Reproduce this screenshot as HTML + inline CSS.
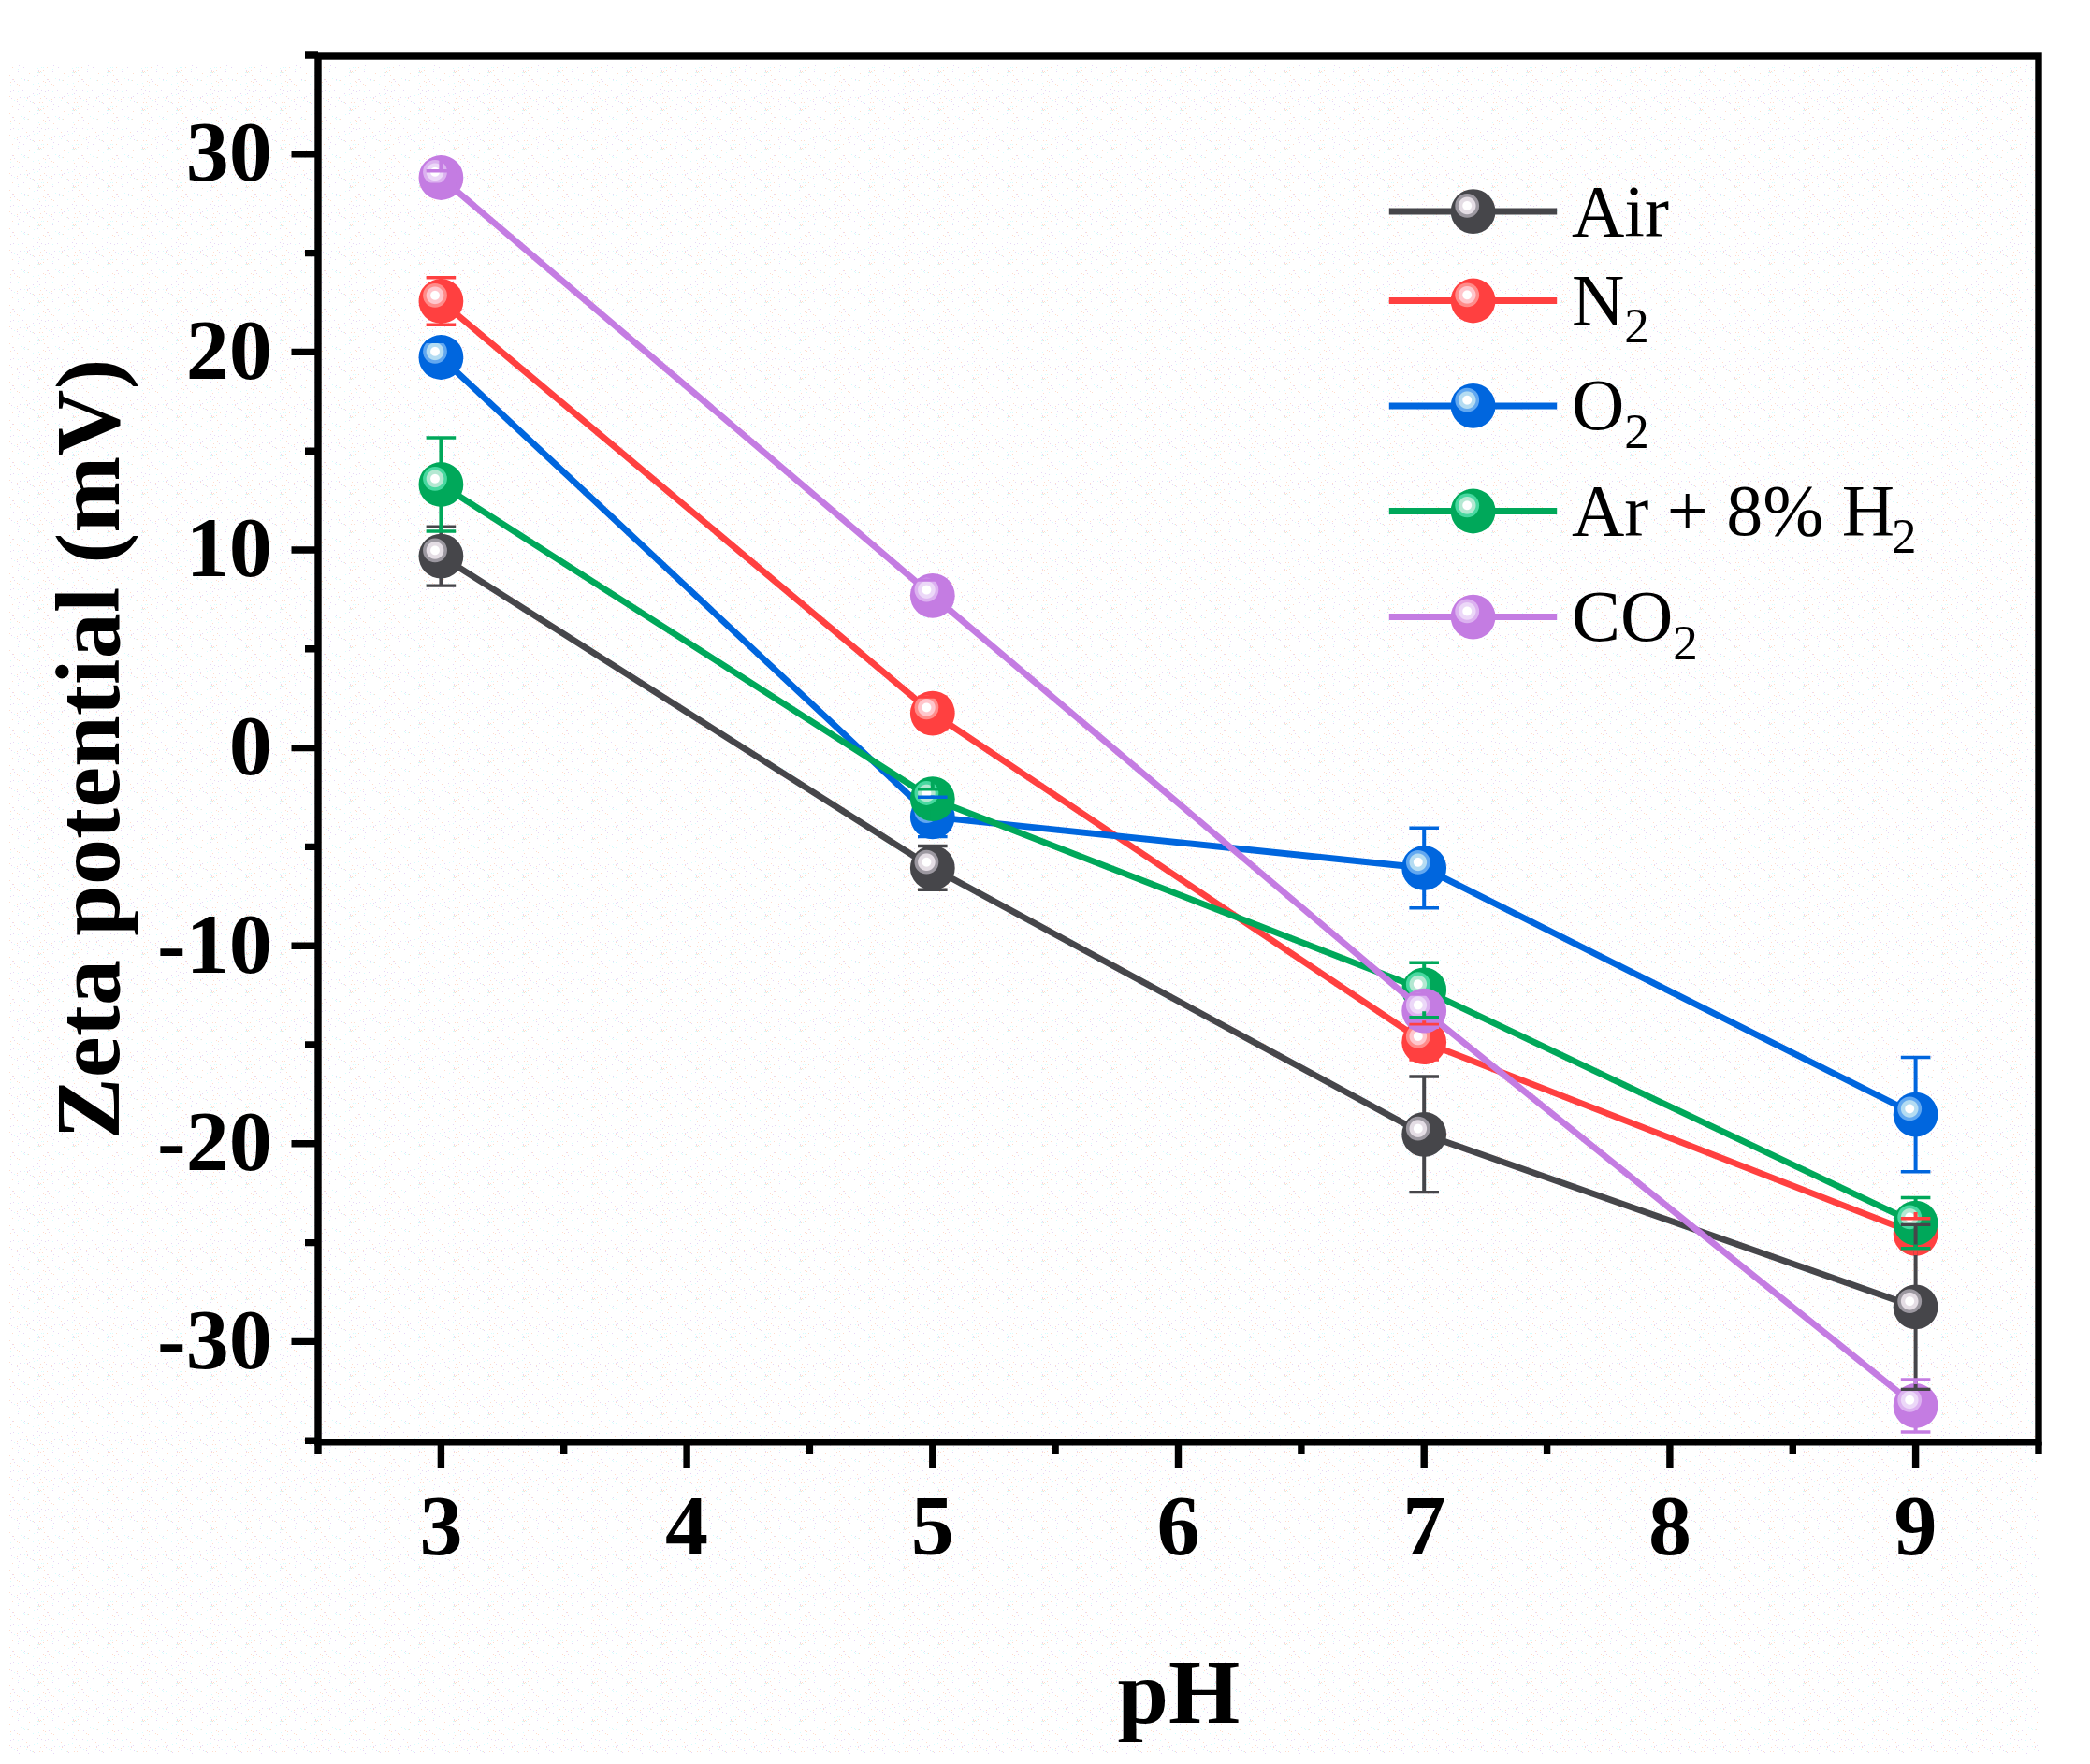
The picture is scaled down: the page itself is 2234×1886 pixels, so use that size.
<!DOCTYPE html>
<html lang="en"><head><meta charset="utf-8"><title>Zeta potential vs pH</title>
<style>html,body{margin:0;padding:0;background:#fff}body{width:2234px;height:1886px;overflow:hidden}svg{display:block}
text{font-family:"Liberation Serif","Times New Roman",serif;fill:#000}.b{font-weight:700}</style></head><body>
<svg width="2234" height="1886" viewBox="0 0 2234 1886">
<defs>
<radialGradient id="g-air" cx="50%" cy="50%" r="50%"><stop offset="0" stop-color="#fff"/><stop offset="0.34" stop-color="#fff"/><stop offset="0.42" stop-color="#e4dde4"/><stop offset="0.68" stop-color="#e4dde4"/><stop offset="0.76" stop-color="#9c98a0"/><stop offset="1" stop-color="#9c98a0"/></radialGradient>
<g id="m-air"><circle r="23.9" fill="#46464a"/><circle cx="-6.4" cy="-6.2" r="12.9" fill="url(#g-air)"/></g>
<radialGradient id="g-n2" cx="50%" cy="50%" r="50%"><stop offset="0" stop-color="#fff"/><stop offset="0.34" stop-color="#fff"/><stop offset="0.42" stop-color="#ffc6cc"/><stop offset="0.68" stop-color="#ffc6cc"/><stop offset="0.76" stop-color="#ff8c8a"/><stop offset="1" stop-color="#ff8c8a"/></radialGradient>
<g id="m-n2"><circle r="23.9" fill="#ff4040"/><circle cx="-6.4" cy="-6.2" r="12.9" fill="url(#g-n2)"/></g>
<radialGradient id="g-o2" cx="50%" cy="50%" r="50%"><stop offset="0" stop-color="#fff"/><stop offset="0.34" stop-color="#fff"/><stop offset="0.42" stop-color="#b4dcf2"/><stop offset="0.68" stop-color="#b4dcf2"/><stop offset="0.76" stop-color="#62a8f0"/><stop offset="1" stop-color="#62a8f0"/></radialGradient>
<g id="m-o2"><circle r="23.9" fill="#0066de"/><circle cx="-6.4" cy="-6.2" r="12.9" fill="url(#g-o2)"/></g>
<radialGradient id="g-arh2" cx="50%" cy="50%" r="50%"><stop offset="0" stop-color="#fff"/><stop offset="0.34" stop-color="#fff"/><stop offset="0.42" stop-color="#b4e8d2"/><stop offset="0.68" stop-color="#b4e8d2"/><stop offset="0.76" stop-color="#48d8a0"/><stop offset="1" stop-color="#48d8a0"/></radialGradient>
<g id="m-arh2"><circle r="23.9" fill="#00a85a"/><circle cx="-6.4" cy="-6.2" r="12.9" fill="url(#g-arh2)"/></g>
<radialGradient id="g-co2" cx="50%" cy="50%" r="50%"><stop offset="0" stop-color="#fff"/><stop offset="0.34" stop-color="#fff"/><stop offset="0.42" stop-color="#ecd8f8"/><stop offset="0.68" stop-color="#ecd8f8"/><stop offset="0.76" stop-color="#dcb2f0"/><stop offset="1" stop-color="#dcb2f0"/></radialGradient>
<g id="m-co2"><circle r="23.9" fill="#c47ce2"/><circle cx="-6.4" cy="-6.2" r="12.9" fill="url(#g-co2)"/></g>
<pattern id="dz" width="37" height="41" patternUnits="userSpaceOnUse"><rect x="20" y="9" width="1" height="1" fill="#ffdccb"/><rect x="25" y="3" width="1" height="1" fill="#d6fdfd"/><rect x="4" y="34" width="1" height="1" fill="#e6d6f6"/><rect x="6" y="23" width="1" height="1" fill="#ffdccb"/><rect x="3" y="32" width="1" height="1" fill="#d6fdfd"/><rect x="13" y="2" width="1" height="1" fill="#e6d6f6"/><rect x="5" y="27" width="1" height="1" fill="#ffdccb"/><rect x="26" y="4" width="1" height="1" fill="#d6fdfd"/><rect x="15" y="5" width="1" height="1" fill="#e6d6f6"/><rect x="35" y="27" width="1" height="1" fill="#ffdccb"/><rect x="3" y="36" width="1" height="1" fill="#d6fdfd"/><rect x="7" y="14" width="1" height="1" fill="#e6d6f6"/><rect x="14" y="2" width="1" height="1" fill="#ffdccb"/><rect x="35" y="8" width="1" height="1" fill="#d6fdfd"/><rect x="18" y="26" width="1" height="1" fill="#e6d6f6"/><rect x="9" y="34" width="1" height="1" fill="#ffdccb"/><rect x="7" y="36" width="1" height="1" fill="#d6fdfd"/><rect x="19" y="35" width="1" height="1" fill="#e6d6f6"/><rect x="11" y="6" width="1" height="1" fill="#ffdccb"/><rect x="36" y="40" width="1" height="1" fill="#d6fdfd"/><rect x="12" y="23" width="1" height="1" fill="#e6d6f6"/><rect x="6" y="35" width="1" height="1" fill="#ffdccb"/><rect x="4" y="36" width="1" height="1" fill="#d6fdfd"/><rect x="3" y="39" width="1" height="1" fill="#e6d6f6"/><rect x="13" y="31" width="1" height="1" fill="#ffdccb"/><rect x="34" y="27" width="1" height="1" fill="#d6fdfd"/><rect x="20" y="29" width="1" height="1" fill="#e6d6f6"/><rect x="29" y="23" width="1" height="1" fill="#ffdccb"/><rect x="19" y="15" width="1" height="1" fill="#d6fdfd"/><rect x="11" y="15" width="1" height="1" fill="#e6d6f6"/><rect x="5" y="36" width="1" height="1" fill="#ffdccb"/><rect x="19" y="33" width="1" height="1" fill="#d6fdfd"/><rect x="31" y="21" width="1" height="1" fill="#e6d6f6"/><rect x="28" y="18" width="1" height="1" fill="#ffdccb"/><rect x="4" y="7" width="1" height="1" fill="#d6fdfd"/><rect x="32" y="26" width="1" height="1" fill="#e6d6f6"/><rect x="10" y="21" width="1" height="1" fill="#ffdccb"/><rect x="9" y="31" width="1" height="1" fill="#d6fdfd"/><rect x="26" y="2" width="1" height="1" fill="#e6d6f6"/><rect x="4" y="35" width="1" height="1" fill="#ffdccb"/><rect x="36" y="20" width="1" height="1" fill="#d6fdfd"/><rect x="21" y="22" width="1" height="1" fill="#e6d6f6"/><rect x="31" y="37" width="1" height="1" fill="#ffdccb"/><rect x="29" y="4" width="1" height="1" fill="#d6fdfd"/><rect x="5" y="17" width="1" height="1" fill="#e6d6f6"/><rect x="30" y="4" width="1" height="1" fill="#ffdccb"/><rect x="3" y="19" width="1" height="1" fill="#d6fdfd"/><rect x="36" y="28" width="1" height="1" fill="#e6d6f6"/><rect x="18" y="24" width="1" height="1" fill="#ffdccb"/><rect x="22" y="1" width="1" height="1" fill="#d6fdfd"/><rect x="29" y="22" width="1" height="1" fill="#e6d6f6"/><rect x="10" y="39" width="1" height="1" fill="#ffdccb"/><rect x="7" y="31" width="1" height="1" fill="#d6fdfd"/><rect x="3" y="13" width="1" height="1" fill="#e6d6f6"/><rect x="18" y="8" width="1" height="1" fill="#ffdccb"/><rect x="15" y="25" width="1" height="1" fill="#d6fdfd"/><rect x="25" y="31" width="1" height="1" fill="#e6d6f6"/><rect x="5" y="10" width="1" height="1" fill="#ffdccb"/><rect x="28" y="25" width="1" height="1" fill="#d6fdfd"/><rect x="35" y="17" width="1" height="1" fill="#e6d6f6"/><rect x="8" y="27" width="1" height="1" fill="#ffdccb"/><rect x="26" y="22" width="1" height="1" fill="#d6fdfd"/><rect x="24" y="14" width="1" height="1" fill="#e6d6f6"/><rect x="9" y="5" width="1" height="1" fill="#ffdccb"/><rect x="11" y="9" width="1" height="1" fill="#d6fdfd"/><rect x="14" y="14" width="1" height="1" fill="#e6d6f6"/></pattern>
</defs>
<rect width="2234" height="1886" fill="#fff"/>
<rect x="10" y="70" width="2169" height="1805" fill="url(#dz)"/>
<polyline points="471.4,594.6 996.8,927.9 1522.2,1212.8 2047.6,1397.4" fill="none" stroke="#46464a" stroke-width="6.8" stroke-linejoin="round"/>
<use href="#m-air" x="471.4" y="594.6"/>
<use href="#m-air" x="996.8" y="927.9"/>
<use href="#m-air" x="1522.2" y="1212.8"/>
<use href="#m-air" x="2047.6" y="1397.4"/>
<polyline points="471.4,322.0 996.8,762.6 1522.2,1114.2 2047.6,1319.0" fill="none" stroke="#ff4040" stroke-width="6.8" stroke-linejoin="round"/>
<use href="#m-n2" x="471.4" y="322.0"/>
<use href="#m-n2" x="996.8" y="762.6"/>
<use href="#m-n2" x="1522.2" y="1114.2"/>
<use href="#m-n2" x="2047.6" y="1319.0"/>
<polyline points="471.4,382.0 996.8,873.4 1522.2,928.0 2047.6,1191.6" fill="none" stroke="#0066de" stroke-width="6.8" stroke-linejoin="round"/>
<use href="#m-o2" x="471.4" y="382.0"/>
<use href="#m-o2" x="996.8" y="873.4"/>
<use href="#m-o2" x="1522.2" y="928.0"/>
<use href="#m-o2" x="2047.6" y="1191.6"/>
<polyline points="471.4,518.0 996.8,854.2 1522.2,1058.4 2047.6,1307.6" fill="none" stroke="#00a85a" stroke-width="6.8" stroke-linejoin="round"/>
<use href="#m-arh2" x="471.4" y="518.0"/>
<use href="#m-arh2" x="996.8" y="854.2"/>
<use href="#m-arh2" x="1522.2" y="1058.4"/>
<use href="#m-arh2" x="2047.6" y="1307.6"/>
<polyline points="471.4,190.0 996.8,636.8 1522.2,1080.7 2047.6,1503.0" fill="none" stroke="#c47ce2" stroke-width="6.8" stroke-linejoin="round"/>
<use href="#m-co2" x="471.4" y="190.0"/>
<use href="#m-co2" x="996.8" y="636.8"/>
<use href="#m-co2" x="1522.2" y="1080.7"/>
<use href="#m-co2" x="2047.6" y="1503.0"/>
<path d="M471.4 563.1V571.7M471.4 626.1V617.5M996.8 904.5V905.0M996.8 951.3V950.8M1522.2 1151.0V1189.9M1522.2 1274.6V1235.7M2047.6 1309.4V1374.5M2047.6 1485.4V1420.3" stroke="#46464a" stroke-width="4.0" fill="none"/>
<path d="M455.6 563.1h31.6M455.6 626.1h31.6M981.0 904.5h31.6M981.0 951.3h31.6M1506.4 1151.0h31.6M1506.4 1274.6h31.6M2031.8 1309.4h31.6M2031.8 1485.4h31.6" stroke="#46464a" stroke-width="3.4" fill="none"/>
<path d="M471.4 296.8V299.1M471.4 347.2V344.9M996.8 745.1V739.7M996.8 780.1V785.5M1522.2 1095.4V1091.3M1522.2 1133.0V1137.1M2047.6 1302.8V1296.1M2047.6 1335.2V1341.9" stroke="#ff4040" stroke-width="4.0" fill="none"/>
<path d="M455.6 296.8h31.6M455.6 347.2h31.6M981.0 745.1h31.6M981.0 780.1h31.6M1506.4 1095.4h31.6M1506.4 1133.0h31.6M2031.8 1302.8h31.6M2031.8 1335.2h31.6" stroke="#ff4040" stroke-width="3.4" fill="none"/>
<path d="M471.4 365.4V359.1M471.4 398.6V404.9M996.8 852.2V850.5M996.8 894.6V896.3M1522.2 885.2V905.1M1522.2 970.8V950.9M2047.6 1130.5V1168.7M2047.6 1252.7V1214.5" stroke="#0066de" stroke-width="4.0" fill="none"/>
<path d="M455.6 365.4h31.6M455.6 398.6h31.6M981.0 852.2h31.6M981.0 894.6h31.6M1506.4 885.2h31.6M1506.4 970.8h31.6M2031.8 1130.5h31.6M2031.8 1252.7h31.6" stroke="#0066de" stroke-width="3.4" fill="none"/>
<path d="M471.4 468.0V495.1M471.4 568.0V540.9M996.8 843.8V831.3M996.8 864.6V877.1M1522.2 1029.2V1035.5M1522.2 1087.6V1081.3M2047.6 1280.5V1284.7M2047.6 1334.7V1330.5" stroke="#00a85a" stroke-width="4.0" fill="none"/>
<path d="M455.6 468.0h31.6M455.6 568.0h31.6M981.0 843.8h31.6M981.0 864.6h31.6M1506.4 1029.2h31.6M1506.4 1087.6h31.6M2031.8 1280.5h31.6M2031.8 1334.7h31.6" stroke="#00a85a" stroke-width="3.4" fill="none"/>
<path d="M471.4 182.7V167.1M471.4 197.3V212.9M996.8 620.0V613.9M996.8 653.6V659.7M1522.2 1063.1V1057.8M1522.2 1098.3V1103.6M2047.6 1475.0V1480.1M2047.6 1531.0V1525.9" stroke="#c47ce2" stroke-width="4.0" fill="none"/>
<path d="M455.6 182.7h31.6M455.6 197.3h31.6M981.0 620.0h31.6M981.0 653.6h31.6M1506.4 1063.1h31.6M1506.4 1098.3h31.6M2031.8 1475.0h31.6M2031.8 1531.0h31.6" stroke="#c47ce2" stroke-width="3.4" fill="none"/>
<g stroke="#000" stroke-width="7.4" fill="none">
<rect x="340.0" y="60.0" width="1839.0" height="1481.8"/>
<path d="M340.0 1434.4H311.5M340.0 1222.8H311.5M340.0 1011.2H311.5M340.0 799.6H311.5M340.0 588.0H311.5M340.0 376.4H311.5M340.0 164.8H311.5M340.0 1540.2H326.0M340.0 1328.6H326.0M340.0 1117.0H326.0M340.0 905.4H326.0M340.0 693.8H326.0M340.0 482.2H326.0M340.0 270.6H326.0M340.0 59.0H326.0M471.4 1541.8V1570.0M734.1 1541.8V1570.0M996.8 1541.8V1570.0M1259.5 1541.8V1570.0M1522.2 1541.8V1570.0M1784.9 1541.8V1570.0M2047.6 1541.8V1570.0M340.0 1541.8V1555.0M602.7 1541.8V1555.0M865.4 1541.8V1555.0M1128.1 1541.8V1555.0M1390.9 1541.8V1555.0M1653.6 1541.8V1555.0M1916.3 1541.8V1555.0M2179.0 1541.8V1555.0"/>
</g>
<g class="b" font-size="92" text-anchor="end">
<text x="290.7" y="1462.7">-30</text>
<text x="290.7" y="1251.1">-20</text>
<text x="290.7" y="1039.5">-10</text>
<text x="290.7" y="827.9">0</text>
<text x="290.7" y="616.3">10</text>
<text x="290.7" y="404.7">20</text>
<text x="290.7" y="193.1">30</text>
</g>
<g class="b" font-size="92" text-anchor="middle">
<text x="471.4" y="1662.2">3</text>
<text x="734.1" y="1662.2">4</text>
<text x="996.8" y="1662.2">5</text>
<text x="1259.5" y="1662.2">6</text>
<text x="1522.2" y="1662.2">7</text>
<text x="1784.9" y="1662.2">8</text>
<text x="2047.6" y="1662.2">9</text>
</g>
<text class="b" font-size="98" text-anchor="middle" x="1259.8" y="1841.8">pH</text>
<text class="b" font-size="98" text-anchor="middle" letter-spacing="0.37" transform="translate(127 800.5) rotate(-90)">Zeta potential (mV)</text>
<path d="M1484.8 226.1H1664.2" stroke="#46464a" stroke-width="7.0" fill="none"/>
<use href="#m-air" x="1574.6" y="226.1"/>
<text font-size="78" x="1680" y="251.5">Air</text>
<path d="M1484.8 321.5H1664.2" stroke="#ff4040" stroke-width="7.0" fill="none"/>
<use href="#m-n2" x="1574.6" y="321.5"/>
<text font-size="78" x="1680" y="346.9">N<tspan font-size="53" dy="19.5">2</tspan></text>
<path d="M1484.8 433.9H1664.2" stroke="#0066de" stroke-width="7.0" fill="none"/>
<use href="#m-o2" x="1574.6" y="433.9"/>
<text font-size="78" x="1680" y="459.3">O<tspan font-size="53" dy="19.5">2</tspan></text>
<path d="M1484.8 546.5H1664.2" stroke="#00a85a" stroke-width="7.0" fill="none"/>
<use href="#m-arh2" x="1574.6" y="546.5"/>
<text font-size="78" x="1680" y="571.9">Ar + 8% H<tspan font-size="53" dy="19.5" dx="-3">2</tspan></text>
<path d="M1484.8 659.6H1664.2" stroke="#c47ce2" stroke-width="7.0" fill="none"/>
<use href="#m-co2" x="1574.6" y="659.6"/>
<text font-size="78" x="1680" y="685.0">CO<tspan font-size="53" dy="19.5">2</tspan></text>
</svg></body></html>
